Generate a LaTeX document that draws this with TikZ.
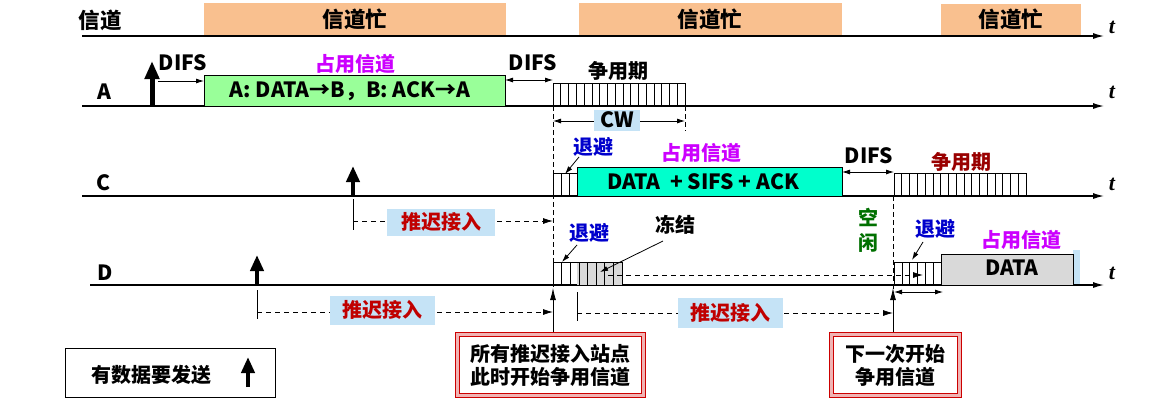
\documentclass[tikz,border=0pt]{standalone}
\usepackage{fontspec}
\setmainfont{Noto Sans CJK SC}
\newfontfamily\tfont{Liberation Serif}
\usetikzlibrary{arrows.meta}
\definecolor{busy}{RGB}{249,192,143}
\definecolor{occA}{RGB}{153,255,153}
\definecolor{occC}{RGB}{0,255,204}
\definecolor{mag}{RGB}{204,0,255}
\definecolor{bluet}{RGB}{0,0,204}
\definecolor{redt}{RGB}{192,0,0}
\definecolor{dred}{RGB}{153,0,0}
\definecolor{greent}{RGB}{0,112,0}
\definecolor{lblue}{RGB}{197,227,246}
\definecolor{grayf}{RGB}{217,217,217}
\definecolor{pinkb}{RGB}{240,180,180}
\definecolor{redb}{RGB}{204,0,0}
\tikzset{
  every node/.style={font=\fontsize{20}{23}\selectfont\bfseries, inner sep=0pt},
  latin/.style={font=\fontsize{21}{23}\selectfont\bfseries},
  toptext/.style={font=\fontsize{21.5}{23}\selectfont\bfseries},
  axisline/.style={line width=1.3pt, -{Latex[length=11pt,width=6pt]}},
  tlabel/.style={font=\fontsize{22}{22}\selectfont\tfont\bfseries\itshape},
  busybox/.style={fill=busy, minimum height=32pt, toptext},
  dimarrow/.style={line width=0.8pt, {Latex[length=8pt,width=5pt]}-{Latex[length=8pt,width=5pt]}},
  onearrow/.style={line width=0.8pt, -{Latex[length=8pt,width=5pt]}},
  dasharrow/.style={line width=0.8pt, dashed, dash pattern=on 5pt off 4pt, -{Latex[length=10pt,width=6pt]}},
  vdash/.style={line width=0.8pt, dash pattern=on 5pt off 3pt},
  uparrow/.style={line width=4pt, -{Triangle[length=16pt,width=13pt]}},
  lblbox/.style={fill=lblue, text=redt, minimum width=106pt, minimum height=28pt},
  slotbox/.style={draw, line width=0.8pt},
  legendbox/.style={draw, line width=1pt},
}
\begin{document}
\begin{tikzpicture}[x=1pt,y=-1pt]
\useasboundingbox (0,0) rectangle (1171,402);
% ---------- channel row
\node[toptext] (chan) at (100,20) {信道};
\node[busybox, minimum width=302pt] (b1) at (355,19) {信道忙};
\node[busybox, minimum width=263pt] (b2) at (710,19) {信道忙};
\node[busybox, minimum width=140pt, minimum height=31pt] (b3) at (1011,19.5) {信道忙};
\coordinate (l0s) at (82,36); \coordinate (l0e) at (1104,36);
\draw[axisline] (l0s) -- (l0e);
\node[tlabel] (t0) at (1112,27) {t};
% ---------- row A
\node[latin] (A) at (104,92) {A};
\coordinate (lAs) at (82,106); \coordinate (lAe) at (1104,106);
\draw[axisline] (lAs) -- (lAe);
\node[tlabel] (tA) at (1112,92) {t};
\coordinate (aA0) at (152,106); \coordinate (aA1) at (152,61);
\draw[line width=5pt, -{Triangle[length=18pt,width=14pt]}] (aA0) -- (aA1);
\node[latin] (difsA1) at (183,63) {DIFS};
\draw[fill=occA, line width=1pt] (204,75) rectangle (505,106);
\node[latin] (occAtxt) at (350,91) {A: DATA→B，B: ACK→A};
\coordinate (dA1s) at (158,81); \coordinate (dA1e) at (204,81);
\draw[onearrow] (dA1s) -- (dA1e);
\node[text=mag] (zyA) at (355,64) {占用信道};
\node[latin] (difsA2) at (533,63) {DIFS};
\coordinate (dA2s) at (505,80); \coordinate (dA2e) at (553,80);
\draw[dimarrow] (dA2s) -- (dA2e);
\node (zyqA) at (618,71) {争用期};
\draw[slotbox] (553,83) rectangle (685,106);
\foreach \i in {1,...,16} \draw[line width=0.6pt] ({553+\i*7.765},83) -- ({553+\i*7.765},106);
% CW
\coordinate (cw0) at (553,121); \coordinate (cw1) at (685,121);
\draw[dimarrow] (cw0) -- (cw1);
\draw[vdash] (685,106) -- (685,131);
\node[latin, fill=lblue, minimum width=46pt, minimum height=21pt] (cw) at (617,120) {CW};
% ---------- row C
\node[latin] (C) at (104,183) {C};
\coordinate (lCs) at (82,196); \coordinate (lCe) at (1104,196);
\draw[axisline] (lCs) -- (lCe);
\node[tlabel] (tC) at (1112,184) {t};
\coordinate (aC0) at (353,196); \coordinate (aC1) at (353,166);
\draw[uparrow] (aC0) -- (aC1);
\draw[line width=0.8pt] (353,199) -- (353,230);
\coordinate (pC0) at (353,221); \coordinate (pC1) at (553,221);
\draw[dasharrow] (pC0) -- (pC1);
\node[lblbox, minimum width=108pt, minimum height=27pt] (tuiC) at (441,222) {推迟接入};
% backoff C
\draw[slotbox] (553,173) rectangle (577,196);
\foreach \i in {1,2} \draw[line width=0.6pt] ({553+\i*8},173) -- ({553+\i*8},196);
\node[text=bluet] (tbC) at (593,147) {退避};
\draw[onearrow] (579,157) -- (565,174);
\draw[fill=occC, line width=1pt] (577,167) rectangle (842,196);
\node[latin] (occCtxt) at (703,182) {DATA\ \ + SIFS + ACK};
\node[text=mag] (zyC) at (701,153) {占用信道};
\node[latin] (difsC) at (869,156) {DIFS};
\coordinate (dCs) at (842,172); \coordinate (dCe) at (894,172);
\draw[dimarrow] (dCs) -- (dCe);
\node[text=dred] (zyqC) at (961,162) {争用期};
\draw[slotbox] (894,173) rectangle (1026,196);
\foreach \i in {1,...,16} \draw[line width=0.6pt] ({894+\i*7.765},173) -- ({894+\i*7.765},196);
% ---------- row D
\node[latin] (D) at (105,273) {D};
\coordinate (lDs) at (90,285); \coordinate (lDe) at (1104,285);
\draw[axisline] (lDs) -- (lDe);
\node[tlabel] (tD) at (1112,273) {t};
\coordinate (aD0) at (257,285); \coordinate (aD1) at (257,255);
\draw[uparrow] (aD0) -- (aD1);
% backoff D
\fill[grayf] (577,262) rectangle (622,285);
\draw[slotbox] (553,262) rectangle (622,285);
\foreach \i in {1,...,7} \draw[line width=0.6pt] ({553+\i*8.6},262) -- ({553+\i*8.6},285);
\node[text=bluet] (tbD) at (589,233) {退避};
\draw[onearrow] (577,245) -- (562,262);
\node (dj) at (675,225) {冻结};
\draw[onearrow] (663,241) -- (600,272);
\coordinate (fr0) at (608,275); \coordinate (fr1) at (923,275);
\draw[dasharrow] (fr0) -- (fr1);
\node[text=greent] (kong) at (868,217) {空};
\node[text=greent] (xian) at (868,243) {闲};
\draw[slotbox] (894,262) rectangle (941,285);
\foreach \i in {1,...,5} \draw[line width=0.6pt] ({894+\i*7.83},262) -- ({894+\i*7.83},285);
\node[text=bluet] (tbD2) at (935,229) {退避};
\draw[onearrow] (923,242) -- (912,260);
\fill[lblue] (1073,250) rectangle (1080,284);
\fill[grayf] (941,254) rectangle (1073,285);
\draw[line width=1pt] (1073,285) -- (1073,254) -- (941,254) -- (941,285);
\node[latin] (datatxt) at (1012,268) {DATA};
\node[text=mag] (zyD) at (1021,240) {占用信道};
\coordinate (dD0) at (894,292); \coordinate (dD1) at (943,292);
\draw[dimarrow] (dD0) -- (dD1);
% deferrals below D
\draw[line width=0.8pt] (257,290) -- (257,319);
\coordinate (pD0) at (257,312); \coordinate (pD1) at (553,312);
\draw[dasharrow] (pD0) -- (pD1);
\node[lblbox, minimum width=105pt, minimum height=29pt] (tuiD) at (382,310) {推迟接入};
\draw[line width=0.8pt] (577,292) -- (577,321);
\coordinate (pE0) at (577,313); \coordinate (pE1) at (893,313);
\draw[dasharrow] (pE0) -- (pE1);
\node[lblbox, minimum width=105pt, minimum height=30pt] (tuiE) at (730,313) {推迟接入};
% vertical dashed guides
\draw[vdash] (553,106) -- (553,290);
\draw[vdash] (893,196) -- (893,290);
% ---------- bottom boxes
\node[legendbox, minimum width=210pt, minimum height=49pt] (leg) at (170,372.5) {};
\node (legtxt) at (151,375) {有数据要发送};
\coordinate (aL0) at (248,387); \coordinate (aL1) at (248,357);
\draw[uparrow] (aL0) -- (aL1);
% red box 1
\draw[redb, fill=pinkb, line width=1pt] (455,332) rectangle (645,397);
\draw[redb, fill=white, line width=1pt] (459,336) rectangle (641,393);
\node[align=center] (r1) at (550,365) {所有推迟接入站点\\此时开始争用信道};
% red box 2
\draw[redb, fill=pinkb, line width=1pt] (829,332) rectangle (961,397);
\draw[redb, fill=white, line width=1pt] (833,336) rectangle (957,393);
\node[align=center] (r2) at (895,366) {下一次开始\\争用信道};
% arrows from boxes
\coordinate (u1a) at (553,332); \coordinate (u1b) at (553,288);
\draw[line width=0.8pt, -{Latex[length=12pt,width=6pt]}] (u1a) -- (u1b);
\coordinate (u2a) at (893,332); \coordinate (u2b) at (893,288);
\draw[line width=0.8pt, -{Latex[length=12pt,width=6pt]}] (u2a) -- (u2b);
\end{tikzpicture}
\end{document}
